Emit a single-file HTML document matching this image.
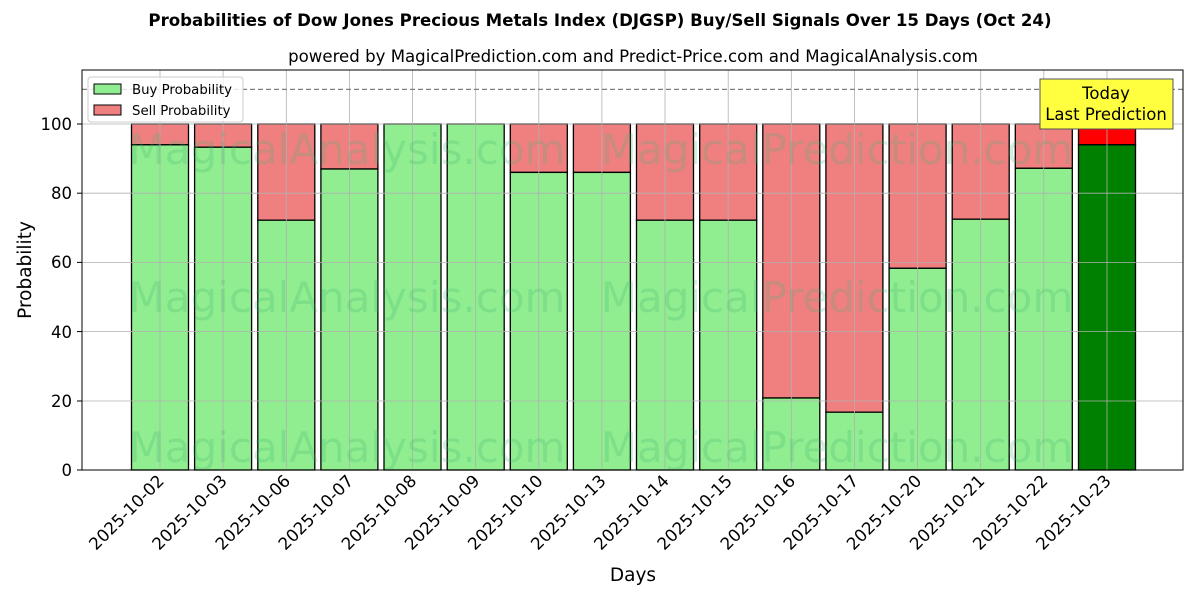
<!DOCTYPE html>
<html><head><meta charset="utf-8"><style>body{margin:0;background:#fff}svg{display:block}text{font-family:"DejaVu Sans","Liberation Sans",sans-serif}</style></head>
<body>
<svg width="1200" height="600" xmlns="http://www.w3.org/2000/svg">
<text x="600" y="26" text-anchor="middle" font-size="16.6" font-weight="bold">Probabilities of Dow Jones Precious Metals Index (DJGSP) Buy/Sell Signals Over 15 Days (Oct 24)</text>
<text x="633" y="62" text-anchor="middle" font-size="16.6">powered by MagicalPrediction.com and Predict-Price.com and MagicalAnalysis.com</text>
<g stroke="#000" stroke-width="1.3">
<rect x="131.5" y="124" width="57" height="20.8" fill="#f08080"/><rect x="131.5" y="144.8" width="57" height="325.2" fill="#90ee90"/>
<rect x="194.6" y="124" width="57" height="23.2" fill="#f08080"/><rect x="194.6" y="147.2" width="57" height="322.8" fill="#90ee90"/>
<rect x="257.8" y="124" width="57" height="96.2" fill="#f08080"/><rect x="257.8" y="220.2" width="57" height="249.8" fill="#90ee90"/>
<rect x="320.9" y="124" width="57" height="45" fill="#f08080"/><rect x="320.9" y="169" width="57" height="301" fill="#90ee90"/>
<rect x="384" y="124" width="57" height="346" fill="#90ee90"/>
<rect x="447.2" y="124" width="57" height="346" fill="#90ee90"/>
<rect x="510.3" y="124" width="57" height="48.4" fill="#f08080"/><rect x="510.3" y="172.4" width="57" height="297.6" fill="#90ee90"/>
<rect x="573.4" y="124" width="57" height="48.4" fill="#f08080"/><rect x="573.4" y="172.4" width="57" height="297.6" fill="#90ee90"/>
<rect x="636.5" y="124" width="57" height="96.2" fill="#f08080"/><rect x="636.5" y="220.2" width="57" height="249.8" fill="#90ee90"/>
<rect x="699.7" y="124" width="57" height="96.2" fill="#f08080"/><rect x="699.7" y="220.2" width="57" height="249.8" fill="#90ee90"/>
<rect x="762.8" y="124" width="57" height="274" fill="#f08080"/><rect x="762.8" y="398" width="57" height="72" fill="#90ee90"/>
<rect x="825.9" y="124" width="57" height="288.2" fill="#f08080"/><rect x="825.9" y="412.2" width="57" height="57.8" fill="#90ee90"/>
<rect x="889.1" y="124" width="57" height="144.3" fill="#f08080"/><rect x="889.1" y="268.3" width="57" height="201.7" fill="#90ee90"/>
<rect x="952.2" y="124" width="57" height="95.2" fill="#f08080"/><rect x="952.2" y="219.2" width="57" height="250.8" fill="#90ee90"/>
<rect x="1015.3" y="124" width="57" height="44.3" fill="#f08080"/><rect x="1015.3" y="168.3" width="57" height="301.7" fill="#90ee90"/>
<rect x="1078.5" y="124" width="57" height="20.8" fill="#ff0000"/><rect x="1078.5" y="144.8" width="57" height="325.2" fill="#008000"/>
</g>
<g stroke="#b0b0b0" stroke-width="0.8">
<line x1="82" x2="1183" y1="470" y2="470"/><line x1="82" x2="1183" y1="401" y2="401"/><line x1="82" x2="1183" y1="331.6" y2="331.6"/><line x1="82" x2="1183" y1="262.4" y2="262.4"/><line x1="82" x2="1183" y1="193.2" y2="193.2"/><line x1="82" x2="1183" y1="124" y2="124"/>
<line x1="160" x2="160" y1="70" y2="470"/><line x1="223.1" x2="223.1" y1="70" y2="470"/><line x1="286.3" x2="286.3" y1="70" y2="470"/><line x1="349.4" x2="349.4" y1="70" y2="470"/><line x1="412.5" x2="412.5" y1="70" y2="470"/><line x1="475.7" x2="475.7" y1="70" y2="470"/><line x1="538.8" x2="538.8" y1="70" y2="470"/><line x1="601.9" x2="601.9" y1="70" y2="470"/><line x1="665" x2="665" y1="70" y2="470"/><line x1="728.2" x2="728.2" y1="70" y2="470"/><line x1="791.3" x2="791.3" y1="70" y2="470"/><line x1="854.4" x2="854.4" y1="70" y2="470"/><line x1="917.6" x2="917.6" y1="70" y2="470"/><line x1="980.7" x2="980.7" y1="70" y2="470"/><line x1="1043.8" x2="1043.8" y1="70" y2="470"/><line x1="1107" x2="1107" y1="70" y2="470"/>
</g>
<g font-size="42" fill="#3cb371" fill-opacity="0.22" text-anchor="middle">
<text x="347" y="164">MagicalAnalysis.com</text><text x="837" y="164">MagicalPrediction.com</text>
<text x="347" y="312">MagicalAnalysis.com</text><text x="837" y="312">MagicalPrediction.com</text>
<text x="347" y="462">MagicalAnalysis.com</text><text x="837" y="462">MagicalPrediction.com</text>
</g>
<line x1="82" x2="1183" y1="89.4" y2="89.4" stroke="#808080" stroke-width="1.3" stroke-dasharray="5,3"/>
<rect x="82" y="70" width="1101" height="400" fill="none" stroke="#000" stroke-width="1"/>
<g font-size="16.5" text-anchor="end">
<text x="72" y="476">0</text><text x="72" y="407">20</text><text x="72" y="338">40</text><text x="72" y="268">60</text><text x="72" y="199">80</text><text x="72" y="130">100</text>
</g>
<g stroke="#000"><line x1="77" x2="82" y1="470" y2="470"/><line x1="77" x2="82" y1="401" y2="401"/><line x1="77" x2="82" y1="331.6" y2="331.6"/><line x1="77" x2="82" y1="262.4" y2="262.4"/><line x1="77" x2="82" y1="193.2" y2="193.2"/><line x1="77" x2="82" y1="124" y2="124"/></g>
<text transform="translate(31,270) rotate(-90)" text-anchor="middle" font-size="18.5">Probability</text>
<g font-size="16.8" text-anchor="end">
<text transform="translate(165,482) rotate(-45)">2025-10-02</text><text transform="translate(228.1,482) rotate(-45)">2025-10-03</text><text transform="translate(291.3,482) rotate(-45)">2025-10-06</text><text transform="translate(354.4,482) rotate(-45)">2025-10-07</text><text transform="translate(417.5,482) rotate(-45)">2025-10-08</text><text transform="translate(480.7,482) rotate(-45)">2025-10-09</text><text transform="translate(543.8,482) rotate(-45)">2025-10-10</text><text transform="translate(606.9,482) rotate(-45)">2025-10-13</text><text transform="translate(670,482) rotate(-45)">2025-10-14</text><text transform="translate(733.2,482) rotate(-45)">2025-10-15</text><text transform="translate(796.3,482) rotate(-45)">2025-10-16</text><text transform="translate(859.4,482) rotate(-45)">2025-10-17</text><text transform="translate(922.6,482) rotate(-45)">2025-10-20</text><text transform="translate(985.7,482) rotate(-45)">2025-10-21</text><text transform="translate(1048.8,482) rotate(-45)">2025-10-22</text><text transform="translate(1112,482) rotate(-45)">2025-10-23</text>
</g>
<text x="633" y="581" text-anchor="middle" font-size="18.5">Days</text>
<rect x="88" y="77" width="155" height="45" rx="3" fill="#fff" fill-opacity="0.8" stroke="#ccc"/>
<rect x="94" y="84" width="27" height="10" fill="#90ee90" stroke="#000"/><text x="132" y="94" font-size="13.3">Buy Probability</text>
<rect x="94" y="105" width="27" height="10" fill="#f08080" stroke="#000"/><text x="132" y="115" font-size="13.3">Sell Probability</text>
<rect x="1040" y="79" width="133" height="50" fill="#ffff40" stroke="#555"/>
<text x="1106" y="99" text-anchor="middle" font-size="16.5">Today</text>
<text x="1106" y="120" text-anchor="middle" font-size="16.5">Last Prediction</text>
</svg>
</body></html>
